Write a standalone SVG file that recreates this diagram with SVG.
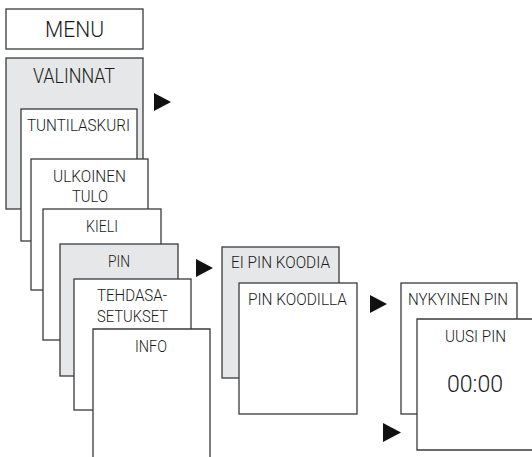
<svg xmlns="http://www.w3.org/2000/svg" width="532" height="457" viewBox="0 0 532 457">
<style>
.b{fill:#fff;stroke:#3a3a3a;stroke-width:1.3}
.g{fill:#e6e7e8;stroke:#3a3a3a;stroke-width:1.3}
text{font-family:Roboto,"Liberation Sans",sans-serif;font-weight:300;fill:#1a1a1a;text-anchor:middle;font-size:16.5px}
text.t1{font-size:21.5px}
text.t2{font-size:20px}
text.t3{font-size:24px}
.arr{fill:#111}
</style>
<rect width="532" height="457" fill="#fff"/>
<g id="menu">
<rect class="b" x="6" y="9" width="137" height="40"/>
<text class="t1" x="74.5" y="37" textLength="59" lengthAdjust="spacingAndGlyphs">MENU</text>
</g>
<g id="valinnat">
<rect class="g" x="6" y="58" width="137" height="151"/>
<text class="t2" x="74" y="83" textLength="82" lengthAdjust="spacingAndGlyphs">VALINNAT</text>
</g>
<g id="tuntilaskuri">
<rect class="b" x="21" y="109" width="116" height="132"/>
<text x="78.5" y="131" textLength="103" lengthAdjust="spacingAndGlyphs">TUNTILASKURI</text>
</g>
<g id="ulkoinen-tulo">
<rect class="b" x="31" y="159" width="117" height="131"/>
<text x="89.5" y="182" textLength="73" lengthAdjust="spacingAndGlyphs">ULKOINEN</text>
<text x="90" y="202" textLength="36" lengthAdjust="spacingAndGlyphs">TULO</text>
</g>
<g id="kieli">
<rect class="b" x="43" y="209" width="118" height="131"/>
<text x="102" y="232" textLength="32" lengthAdjust="spacingAndGlyphs">KIELI</text>
</g>
<g id="pin">
<rect class="g" x="60" y="244" width="118" height="132"/>
<text x="119" y="267" textLength="22" lengthAdjust="spacingAndGlyphs">PIN</text>
</g>
<g id="tehdasasetukset">
<rect class="b" x="74" y="279" width="117" height="131"/>
<text x="132" y="301" textLength="70" lengthAdjust="spacingAndGlyphs">TEHDASA-</text>
<text x="132.5" y="322" textLength="71" lengthAdjust="spacingAndGlyphs">SETUKSET</text>
</g>
<g id="info">
<path class="b" d="M93,458 V329 H210 V458"/>
<text x="151" y="352" textLength="32" lengthAdjust="spacingAndGlyphs">INFO</text>
</g>
<g id="ei-pin-koodia">
<rect class="g" x="222" y="247" width="117" height="131"/>
<text x="280.5" y="268" textLength="99" lengthAdjust="spacingAndGlyphs">EI PIN KOODIA</text>
</g>
<g id="pin-koodilla">
<rect class="b" x="239" y="283" width="118" height="131"/>
<text x="297.5" y="305" textLength="99" lengthAdjust="spacingAndGlyphs">PIN KOODILLA</text>
</g>
<g id="nykyinen-pin">
<rect class="b" x="401" y="283" width="116" height="131"/>
<text x="458" y="305" textLength="100" lengthAdjust="spacingAndGlyphs">NYKYINEN PIN</text>
</g>
<g id="uusi-pin">
<path class="b" d="M534,319 H417 V450 H534"/>
<text x="475.5" y="342" textLength="61" lengthAdjust="spacingAndGlyphs">UUSI PIN</text>
<text class="t3" x="475" y="392" textLength="56" lengthAdjust="spacingAndGlyphs">00:00</text>
</g>
<g id="connectors">
<polygon class="arr" points="154,93 154,111 171,102"/>
<polygon class="arr" points="196,259 196,277 213,268"/>
<polygon class="arr" points="370,295 370,313 387,304"/>
<polygon class="arr" points="383,423 383,442 401,432.5"/>
</g>
</svg>
